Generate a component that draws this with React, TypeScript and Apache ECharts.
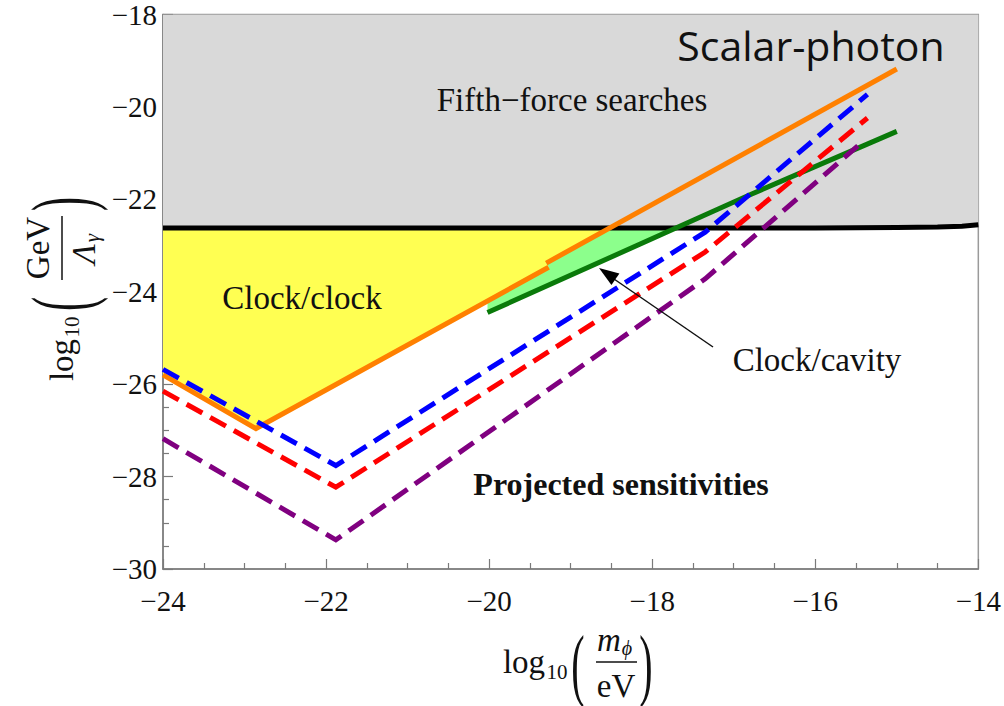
import React, { useEffect, useRef } from "react";
import * as echarts from "echarts";

// ---- Data (log10 units) ----
const xTicks = [-24, -22, -20, -18, -16, -14];
const yTicks = [-30, -28, -26, -24, -22, -20, -18];

// Fifth-force bound (black)
const fifthForce: number[][] = [
  [-24, -22.62], [-20, -22.62], [-16, -22.62], [-15, -22.61], [-14.5, -22.6], [-14.2, -22.58], [-14, -22.55],
];

// Clock/clock (orange) – two segments
const orangeA: number[][] = [[-24, -25.8], [-22.86, -26.96], [-19.27, -23.47]];
const orangeB: number[][] = [[-19.3, -23.38], [-15, -19.18]];

// Clock/cavity (dark green)
const green: number[][] = [[-20.02, -24.45], [-16.8, -21.9], [-15, -20.53]];

// Projected sensitivities (dashed)
const blue: number[][] = [[-24, -25.68], [-21.88, -27.76], [-17.35, -22.71], [-15.36, -19.73]];
const red: number[][] = [[-24, -26.15], [-21.88, -28.23], [-17.35, -23.14], [-15.36, -20.24]];
const purple: number[][] = [[-24, -27.18], [-21.88, -29.37], [-17.35, -23.72], [-15.45, -20.8]];

// Filled regions
const yellowRegion: number[][] = [
  [-24, -22.62], [-18.52, -22.62], [-19.3, -23.38], [-19.27, -23.47], [-22.86, -26.96], [-24, -25.8],
];
const cavityRegion: number[][] = [
  [-20.02, -24.18], [-19.27, -23.47], [-19.3, -23.38], [-18.52, -22.62], [-17.67, -22.62], [-20.02, -24.45],
];

const regions = [
  { pts: yellowRegion, color: "#ffff52" },
  { pts: cavityRegion, color: "#8cff8c" },
];

const SERIF = "'Liberation Serif', 'DejaVu Serif', serif";
const fmt = (v: number) => String(v).replace("-", "\u2212");

const T = (text: string, x: number, y: number, font: string, extra: any = {}) => ({
  type: "text",
  x,
  y,
  ...extra,
  style: { text, font, fill: "#111", align: "center", verticalAlign: "middle" },
});

export default function App() {
  const ref = useRef<HTMLDivElement>(null);
  useEffect(() => {
    if (!ref.current) return;
    const chart = echarts.init(ref.current, null, { renderer: "svg" });

    const lineSeries = (data: number[][], color: string, dashed: boolean, z: number) => ({
      type: "line",
      data,
      symbol: "none",
      z,
      lineStyle: {
        color,
        width: 5,
        type: dashed ? [18, 9] : "solid",
        cap: "butt",
        join: "miter",
      },
      silent: true,
    });

    const axisCommon = {
      splitLine: { show: false },
      axisLine: { show: true, onZero: false, lineStyle: { color: "#7a7a7a", width: 1.5 } },
      axisTick: { show: true, inside: true, length: 10, lineStyle: { color: "#7a7a7a", width: 1.2 } },
      minorTick: { show: true, splitNumber: 4, length: 6, lineStyle: { color: "#7a7a7a", width: 1.2 } },
    };

    const option: any = {
      animation: false,
      backgroundColor: "#ffffff",
      grid: {
        left: 163,
        right: 23,
        top: 13,
        bottom: 137,
        show: true,
        borderColor: "#9a9a9a",
        borderWidth: 1.5,
        backgroundColor: "transparent",
      },
      xAxis: {
        type: "value",
        min: -24,
        max: -14,
        interval: 2,
        ...axisCommon,
        axisLabel: {
          margin: 17,
          fontFamily: SERIF,
          fontSize: 29,
          color: "#111",
          formatter: (v: number) => (xTicks.includes(v) ? fmt(v) : ""),
        },
      },
      yAxis: {
        type: "value",
        min: -30,
        max: -18,
        interval: 2,
        ...axisCommon,
        axisLabel: {
          margin: 6,
          fontFamily: SERIF,
          fontSize: 29,
          color: "#111",
          formatter: (v: number) => (yTicks.includes(v) ? fmt(v) : ""),
        },
      },
      series: [
        {
          type: "line",
          data: fifthForce,
          symbol: "none",
          z: 1,
          lineStyle: { width: 0, color: "#d9d9d9" },
          areaStyle: { color: "#d9d9d9", origin: "end", opacity: 1 },
          silent: true,
        },
        {
          type: "custom",
          z: 2,
          data: regions.map((_, i) => [i]),
          renderItem: (params: any, api: any) => {
            const r = regions[params.dataIndex];
            return {
              type: "polygon",
              shape: { points: r.pts.map((p) => api.coord(p)) },
              style: { fill: r.color },
            };
          },
          silent: true,
        },
        lineSeries(fifthForce, "#000000", false, 3),
        lineSeries(orangeA, "#ff8000", false, 4),
        lineSeries(orangeB, "#ff8000", false, 4),
        lineSeries(green, "#0a7a0a", false, 4),
        lineSeries(blue, "#0000ff", true, 5),
        lineSeries(red, "#ff0000", true, 5),
        lineSeries(purple, "#800080", true, 5),
      ],
      graphic: [
        {
          type: "text",
          x: 811,
          y: 45,
          style: {
            text: "Scalar-photon",
            font: "41px 'Open Sans', 'Noto Sans', sans-serif",
            fill: "#111",
            align: "center",
            verticalAlign: "middle",
          },
          z: 10,
        },
        { ...T("Fifth\u2212force searches", 572, 100, `33px ${SERIF}`), z: 10 },
        { ...T("Clock/clock", 302, 298, `33px ${SERIF}`), z: 10 },
        { ...T("Clock/cavity", 817, 360, `33px ${SERIF}`), z: 10 },
        { ...T("Projected sensitivities", 621, 484, `bold 32px ${SERIF}`), z: 10 },
        // arrow
        {
          type: "line",
          shape: { x1: 713, y1: 347, x2: 614, y2: 279 },
          style: { stroke: "#111", lineWidth: 1.5 },
          z: 10,
        },
        {
          type: "polygon",
          shape: { points: [[599, 268], [619.4, 273.6], [611.4, 285.1]] },
          style: { fill: "#000" },
          z: 10,
        },
        // x-axis title
        {
          type: "group",
          z: 10,
          children: [
            T("log", 524, 662, `33px ${SERIF}`),
            T("10", 557, 672, `21px ${SERIF}`),
            T("(", 578, 664, `80px ${SERIF}`, { scaleX: 0.5 }),
            T("m", 609, 640, `italic 33px ${SERIF}`),
            T("\u03d5", 627, 648, `italic 20px ${SERIF}`),
            { type: "line", shape: { x1: 596, y1: 662, x2: 637, y2: 662 }, style: { stroke: "#111", lineWidth: 1.5 } },
            T("eV", 616, 686, `33px ${SERIF}`),
            T(")", 646, 664, `80px ${SERIF}`, { scaleX: 0.5 }),
          ],
        },
        // y-axis title (rotated; local x runs upward on screen, local y runs rightward)
        {
          type: "group",
          x: 60,
          y: 290,
          rotation: Math.PI / 2,
          z: 10,
          children: [
            T("log", -70, 2, `33px ${SERIF}`),
            T("10", -37, 12, `21px ${SERIF}`),
            T("(", -14, 2, `84px ${SERIF}`, { scaleX: 0.5 }),
            T("GeV", 42, -22, `33px ${SERIF}`),
            { type: "line", shape: { x1: 10, y1: 2, x2: 74, y2: 2 }, style: { stroke: "#111", lineWidth: 1.5 } },
            T("\u039b", 36, 24, `italic 33px ${SERIF}`),
            T("\u03b3", 52, 32, `italic 21px ${SERIF}`),
            T(")", 86, 2, `84px ${SERIF}`, { scaleX: 0.5 }),
          ],
        },
      ],
    };

    chart.setOption(option);
    return () => chart.dispose();
  }, []);

  return (
    <div
      ref={ref}
      style={{ position: "absolute", left: 0, top: 0, width: 1004, height: 706, background: "#fff" }}
    />
  );
}
